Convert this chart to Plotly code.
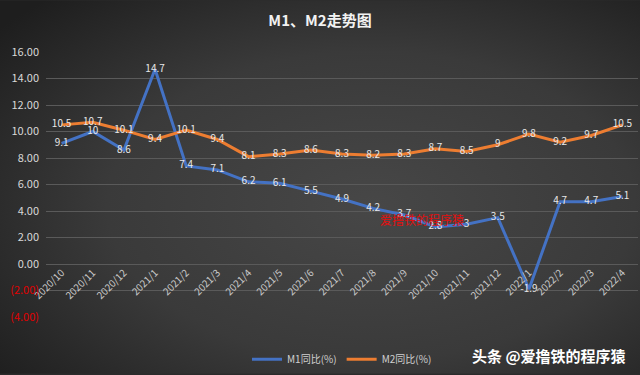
import base64
import plotly.graph_objects as go

categories = ["2020/10", "2020/11", "2020/12", "2021/1", "2021/2", "2021/3", "2021/4",
              "2021/5", "2021/6", "2021/7", "2021/8", "2021/9", "2021/10", "2021/11",
              "2021/12", "2022/1", "2022/2", "2022/3", "2022/4"]
m1_values = [9.1, 10, 8.6, 14.7, 7.4, 7.1, 6.2, 6.1, 5.5, 4.9, 4.2, 3.7, 2.8, 3, 3.5, -1.9, 4.7, 4.7, 5.1]
m2_values = [10.5, 10.7, 10.1, 9.4, 10.1, 9.4, 8.1, 8.3, 8.6, 8.3, 8.2, 8.3, 8.7, 8.5, 9, 9.8, 9.2, 9.7, 10.5]
y_ticks = [-4, -2, 0, 2, 4, 6, 8, 10, 12, 14, 16]
y_tick_labels = ["(4.00)", "(2.00)", "0.00", "2.00", "4.00", "6.00", "8.00", "10.00", "12.00", "14.00", "16.00"]
series_names = ["M1同比(%)", "M2同比(%)"]
title_text = "M1、M2走势图"
watermark_text = "头条 @爱撸铁的程序猿"
mid_watermark = "爱撸铁的程序猿"

FONT = "Noto Sans CJK SC, Noto Sans, sans-serif"

svg = """<svg xmlns='http://www.w3.org/2000/svg' width='640' height='375' viewBox='0 0 640 375' preserveAspectRatio='none'>
<defs><radialGradient id='g' cx='0.58' cy='0.55' r='0.75' gradientUnits='objectBoundingBox'>
<stop offset='0' stop-color='#474747'/><stop offset='0.55' stop-color='#3a3a3a'/><stop offset='1' stop-color='#1e1e1e'/>
</radialGradient></defs><rect width='640' height='375' fill='url(#g)'/></svg>"""
bg_src = "data:image/svg+xml;base64," + base64.b64encode(svg.encode()).decode()

colored_labels = [
    f"<span style='color:#e00000'>{t}</span>" if v < 0 else t
    for v, t in zip(y_ticks, y_tick_labels)
]

fig = go.Figure()
fig.add_trace(go.Scatter(
    x=categories, y=m1_values, name=series_names[0], mode="lines+text",
    line=dict(color="#4472C4", width=3),
    text=[f"{v:g}" for v in m1_values], textposition="middle center",
    textfont=dict(color="#e8e8e8", size=10, family=FONT),
))
fig.add_trace(go.Scatter(
    x=categories, y=m2_values, name=series_names[1], mode="lines+text",
    line=dict(color="#ED7D31", width=3),
    text=[f"{v:g}" for v in m2_values], textposition="middle center",
    textfont=dict(color="#e8e8e8", size=10, family=FONT),
))

fig.update_layout(
    width=640, height=375,
    margin=dict(l=46, r=2, t=52, b=57),
    paper_bgcolor="#2b2b2b", plot_bgcolor="rgba(0,0,0,0)",
    font=dict(family=FONT, color="#d9d9d9", size=11),
    title=dict(text=f"<b>{title_text}</b>", x=0.5, xanchor="center", y=0.945, yanchor="middle",
               font=dict(size=15, color="#f2f2f2", family=FONT)),
    showlegend=True,
    legend=dict(orientation="h", x=0.5, xanchor="center", y=-0.155, yanchor="middle",
                font=dict(size=10, color="#d0d0d0", family=FONT), bgcolor="rgba(0,0,0,0)",
                itemwidth=30),
    images=[dict(source=bg_src, xref="paper", yref="paper", x=-46/592, y=1 + 52/266,
                 sizex=640/592, sizey=375/266, sizing="stretch", layer="below",
                 xanchor="left", yanchor="top")],
    xaxis=dict(type="category", anchor="free", position=0.2, showgrid=False,
               showline=False, ticks="", tickangle=-45,
               tickfont=dict(size=10, color="#c8c8c8", family=FONT),
               range=[-0.5, len(categories) - 0.5]),
    yaxis=dict(range=[-4, 16], tickvals=y_ticks, ticktext=colored_labels,
               showgrid=True, gridcolor="#5a5a5a", gridwidth=1, zeroline=False,
               showline=False, ticks="", tickfont=dict(size=11, color="#d9d9d9", family=FONT),
               ticklabelstandoff=6),
    annotations=[
        dict(text=f"<b>{watermark_text}</b>", xref="paper", yref="paper",
             x=(628 - 46) / 592, y=-(357 - 318) / 266, xanchor="right", yanchor="middle",
             showarrow=False, font=dict(size=15, color="#ffffff", family=FONT)),
        dict(text=mid_watermark, xref="paper", yref="paper",
             x=(422 - 46) / 592, y=(318 - 220) / 266, xanchor="center", yanchor="middle",
             showarrow=False, font=dict(size=12, color="#e01010", family=FONT)),
    ],
)

fig.write_html("out.html", config={"displayModeBar": False},
               post_script="document.body.style.margin='0';document.body.style.background='#2b2b2b';")
